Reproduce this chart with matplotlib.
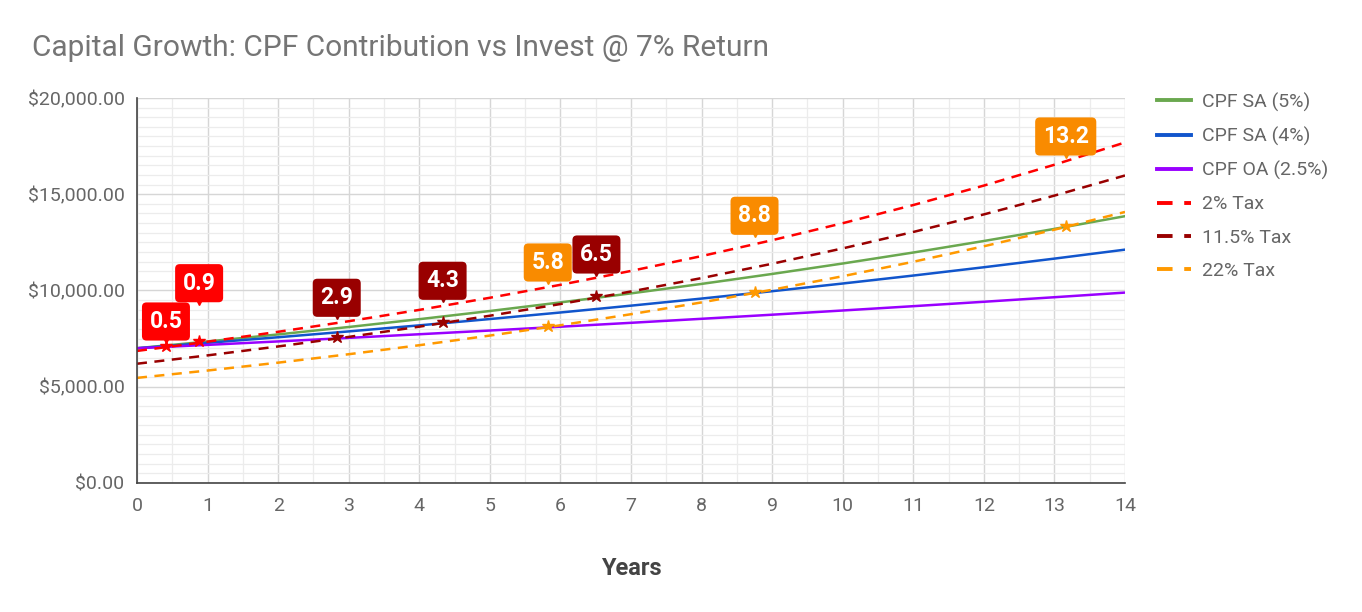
import matplotlib.pyplot as plt
import numpy as np
from matplotlib.ticker import FuncFormatter, MultipleLocator
from matplotlib.transforms import offset_copy

plt.rcParams["font.family"] = ["Roboto", "DejaVu Sans"]

# values, one per year
YEARS = list(range(15))
CPF_SA_5 = [7000, 7350, 7718, 8103, 8509, 8934, 9381, 9850, 10342, 10859, 11402, 11972, 12571, 13200, 13860]
CPF_SA_4 = [7000, 7280, 7571, 7874, 8189, 8517, 8857, 9212, 9580, 9963, 10362, 10776, 11207, 11656, 12122]
CPF_OA = [7000, 7175, 7354, 7538, 7727, 7920, 8118, 8321, 8529, 8742, 8961, 9185, 9414, 9650, 9891]
TAX_2 = [6860, 7340, 7854, 8404, 8992, 9622, 10295, 11016, 11787, 12612, 13495, 14439, 15450, 16532, 17689]
TAX_115 = [6195, 6629, 7093, 7589, 8120, 8689, 9297, 9948, 10644, 11389, 12187, 13040, 13952, 14929, 15974]
TAX_22 = [5460, 5842, 6251, 6689, 7157, 7658, 8194, 8768, 9381, 10038, 10741, 11492, 12297, 13158, 14079]

# break-even points (year, value) and their labels
CROSS_X = [0.41, 0.88, 2.83, 4.33, 5.82, 6.51, 8.75, 13.16]
CROSS_Y = [7117, 7392, 7569, 8348, 8156, 9714, 9906, 13351]
CROSS_LABELS = ["0.5", "0.9", "2.9", "4.3", "5.8", "6.5", "8.8", "13.2"]
CROSS_SERIES = ["2", "2", "11.5", "11.5", "22", "11.5", "22", "22"]

GREEN = "#6aa84f"
BLUE = "#1155cc"
PURPLE = "#9900ff"
RED = "#ff0000"
DARK_RED = "#990000"
ORANGE = "#ff9900"
TAX_COLORS = {"2": RED, "11.5": DARK_RED, "22": ORANGE}
BOX_COLORS = {"2": "#ff0000", "11.5": "#990000", "22": "#f98b00"}

# label tip height above the point, pixels
LABEL_LIFT = [8, 41, 23, 25, 47, 25, 60, 73]


def main() -> None:
    fig = plt.figure(figsize=(13.62, 6.12), dpi=100)
    ax = fig.add_axes([0.1006, 0.2108, 0.7254, 0.6291])

    ax.plot(YEARS, CPF_SA_5, color=GREEN, lw=1.8, label="CPF SA (5%)")
    ax.plot(YEARS, CPF_SA_4, color=BLUE, lw=1.8, label="CPF SA (4%)")
    ax.plot(YEARS, CPF_OA, color=PURPLE, lw=1.8, label="CPF OA (2.5%)")
    dash = (0, (4, 3))
    ax.plot(YEARS, TAX_2, color=RED, lw=1.8, ls=dash, label="2% Tax")
    ax.plot(YEARS, TAX_115, color=DARK_RED, lw=1.8, ls=dash, label="11.5% Tax")
    ax.plot(YEARS, TAX_22, color=ORANGE, lw=1.8, ls=dash, label="22% Tax")

    for x, y, lab, s, lift in zip(CROSS_X, CROSS_Y, CROSS_LABELS, CROSS_SERIES, LABEL_LIFT):
        ax.plot(x, y, marker="*", ms=9, color=TAX_COLORS[s], zorder=5)
        tip = offset_copy(ax.transData, fig=fig, x=0, y=lift, units="dots")
        ax.plot(x, y, marker="v", ms=7, color=BOX_COLORS[s], transform=tip, zorder=6, clip_on=False)
        box = offset_copy(ax.transData, fig=fig, x=0, y=lift + 5, units="dots")
        ax.text(x, y, lab, transform=box, ha="center", va="bottom", color="white",
                fontsize=16.5, fontweight="bold", zorder=7,
                bbox=dict(boxstyle="round,pad=0.33,rounding_size=0.2", fc=BOX_COLORS[s], ec="none"))

    ax.set_xlim(0, 14)
    ax.set_ylim(0, 20000)
    ax.xaxis.set_major_locator(MultipleLocator(1))
    ax.xaxis.set_minor_locator(MultipleLocator(0.5))
    ax.yaxis.set_major_locator(MultipleLocator(5000))
    ax.yaxis.set_minor_locator(MultipleLocator(500))
    ax.yaxis.set_major_formatter(FuncFormatter(lambda v, _: f"${v:,.2f}"))
    ax.grid(which="major", color="#d6d6d6", lw=1.0)
    ax.grid(which="minor", color="#ececec", lw=0.9)
    ax.set_axisbelow(True)
    ax.tick_params(which="both", length=0, labelsize=14, labelcolor="#666666")
    ax.tick_params(axis="y", pad=9)
    ax.tick_params(axis="x", pad=10)
    for side in ("top", "right"):
        ax.spines[side].set_visible(False)
    for side in ("left", "bottom"):
        ax.spines[side].set_color("#444444")
        ax.spines[side].set_linewidth(1.2)

    ax.set_xlabel("Years", fontsize=17, fontweight="bold", color="#444444", labelpad=30)
    fig.text(0.0235, 0.908, "Capital Growth: CPF Contribution vs Invest @ 7% Return",
             fontsize=21.5, color="#757575", ha="left", va="baseline")

    leg = ax.legend(loc="upper left", bbox_to_anchor=(1.015, 1.06), frameon=False,
                    fontsize=14, labelcolor="#666666", handlelength=1.75,
                    labelspacing=0.78, handletextpad=0.55)
    for line in leg.get_lines():
        line.set_linewidth(2.8)

    fig.savefig("out.png", dpi=100)
    plt.close(fig)


if __name__ == "__main__":
    main()
